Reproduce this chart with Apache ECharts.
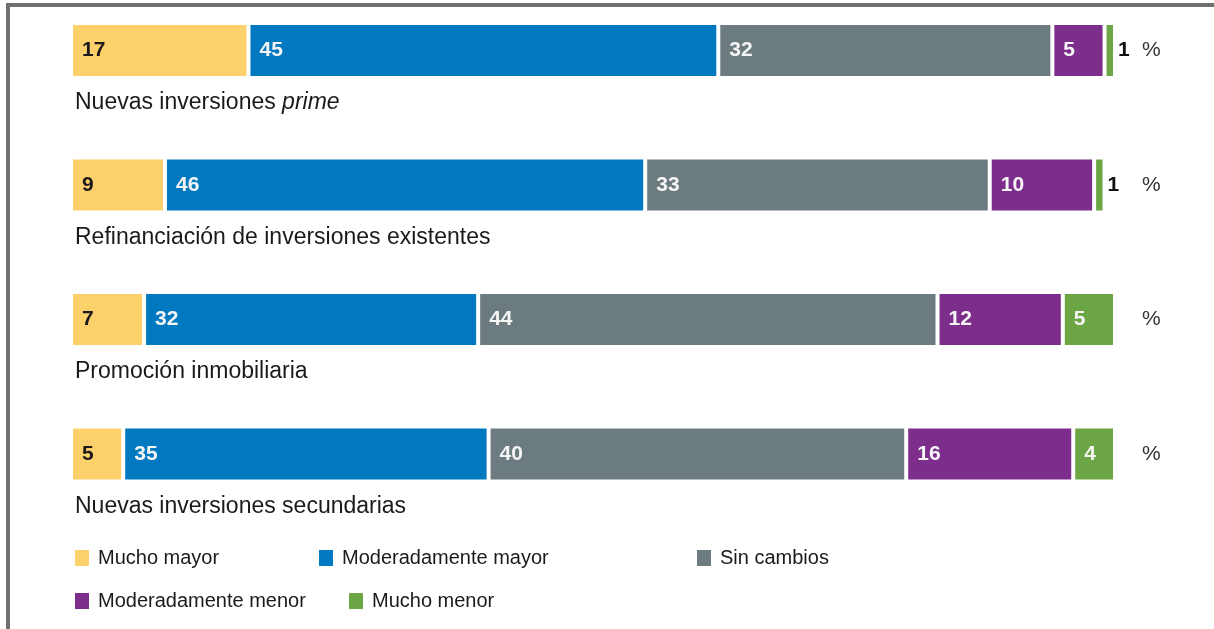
<!DOCTYPE html>
<html>
<head>
<meta charset="utf-8">
<script src="https://cdn.jsdelivr.net/npm/echarts@6/dist/echarts.min.js"></script>
<style>
html,body{margin:0;padding:0;background:#fff;}
#c{width:1214px;height:629px;}
</style>
</head>
<body>
<div id="c"></div>
<script>
const categories = ['Nuevas inversiones prime', 'Refinanciación de inversiones existentes', 'Promoción inmobiliaria', 'Nuevas inversiones secundarias'];
const seriesNames = ['Mucho mayor', 'Moderadamente mayor', 'Sin cambios', 'Moderadamente menor', 'Mucho menor'];
const muchoMayor = [17, 9, 7, 5];
const moderadamenteMayor = [45, 46, 32, 35];
const sinCambios = [32, 33, 44, 40];
const moderadamenteMenor = [5, 10, 12, 16];
const muchoMenor = [1, 1, 5, 4];
const unitLabels = ['%', '%', '%', '%'];

const values = [muchoMayor, moderadamenteMayor, sinCambios, moderadamenteMenor, muchoMenor];
const colors = ['#FCD06B', '#0079C1', '#6C7B80', '#7D2E8C', '#6CA544'];
const labelColors = ['#1a1a1a', '#f5f5f5', '#f5f5f5', '#f5f5f5', '#f5f5f5'];
const sans = "'Liberation Sans', Arial, Helvetica, sans-serif";

const series = values.map((vals, i) => ({
  name: seriesNames[i],
  type: 'bar',
  stack: 'total',
  barWidth: 55,
  itemStyle: { color: colors[i], borderColor: '#ffffff', borderWidth: 2 },
  label: {
    show: true,
    position: 'insideLeft',
    distance: 11,
    color: labelColors[i],
    fontFamily: sans,
    fontWeight: 'bold',
    fontSize: 21
  },
  data: vals.map(v => v <= 1 ? {
    value: v,
    label: { position: 'right', distance: 3, color: '#111111' }
  } : v)
}));

const legendPos = [
  { left: 73, top: 548 },
  { left: 317, top: 548 },
  { left: 695, top: 548 },
  { left: 73, top: 591 },
  { left: 347, top: 591 }
];
const legends = seriesNames.map((n, i) => ({
  data: [n],
  left: legendPos[i].left,
  top: legendPos[i].top,
  padding: 0,
  icon: 'rect',
  itemWidth: 16,
  itemHeight: 18,
  selectedMode: false,
  textStyle: { fontFamily: sans, fontSize: 20, color: '#1a1a1a', padding: [0, 0, 0, 3] }
}));

const option = {
  animation: false,
  backgroundColor: '#ffffff',
  grid: { left: 71, right: 99, top: 50.5, height: 403.5, containLabel: false },
  xAxis: { type: 'value', min: 0, max: 100, show: false },
  yAxis: [
    {
      type: 'category',
      data: categories,
      inverse: true,
      boundaryGap: false,
      axisLine: { show: false },
      axisTick: { show: false },
      splitLine: { show: false },
      axisLabel: {
        align: 'left',
        verticalAlign: 'top',
        margin: -4,
        padding: [41, 0, 0, 0],
        fontFamily: sans,
        fontSize: 23,
        color: '#1a1a1a',
        formatter: function (v) {
          if (v.indexOf(' prime') >= 0) {
            return '{n|' + v.replace(' prime', ' ') + '}{i|prime}';
          }
          return '{n|' + v + '}';
        },
        rich: {
          n: { fontFamily: sans, fontSize: 23, color: '#1a1a1a' },
          i: { fontFamily: sans, fontSize: 23, color: '#1a1a1a', fontStyle: 'italic' }
        }
      }
    },
    {
      type: 'category',
      data: unitLabels,
      inverse: true,
      boundaryGap: false,
      position: 'right',
      axisLine: { show: false },
      axisTick: { show: false },
      splitLine: { show: false },
      axisLabel: {
        margin: 27,
        fontFamily: sans,
        fontSize: 21,
        color: '#333333'
      }
    }
  ],
  legend: legends,
  graphic: [
    {
      type: 'polyline',
      shape: { points: [[8, 700], [8, 5], [1220, 5]] },
      style: { stroke: '#707070', lineWidth: 4, fill: null }
    }
  ],
  series: series
};

const chart = echarts.init(document.getElementById('c'));
chart.setOption(option);
</script>
</body>
</html>
